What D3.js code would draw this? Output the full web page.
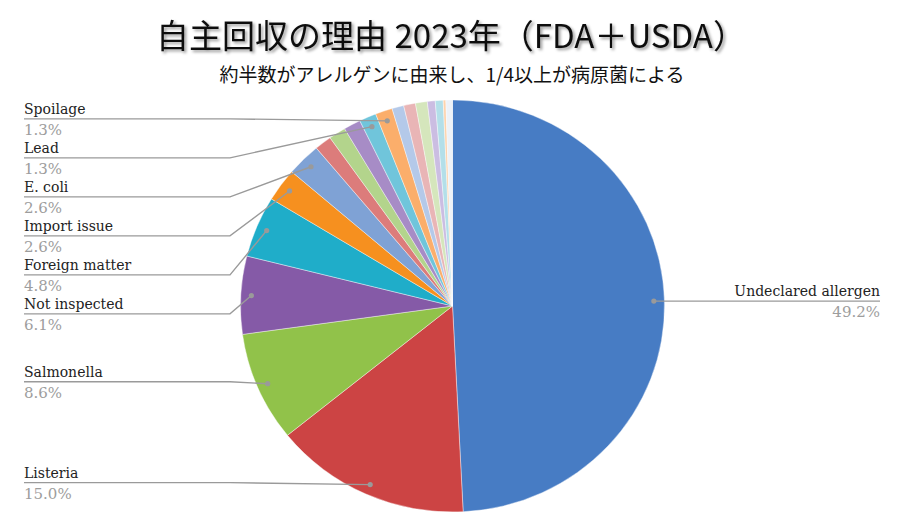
<!DOCTYPE html>
<html>
<head>
<meta charset="utf-8">
<script src="https://cdn.jsdelivr.net/npm/d3@7"></script>
<style>
  html, body { margin: 0; padding: 0; background: #fff; }
  svg { display: block; }
  .lab { font-family: "DejaVu Serif", "Liberation Serif", serif; }
  .ttl { font-family: "Noto Sans CJK JP", "Noto Sans", sans-serif; }
</style>
</head>
<body>
<svg id="chart" width="902" height="528"></svg>
<script>
// ---- data ----
const categories = [
  "Undeclared allergen", "Listeria", "Salmonella", "Not inspected", "Foreign matter",
  "Import issue", "E. coli", "Other 1", "Other 2", "Other 3", "Lead", "Spoilage",
  "Other 4", "Other 5", "Other 6", "Other 7", "Other 8", "Other 9", "Other 10"
];
const values = [49.2, 15.0, 8.6, 6.1, 4.8, 2.6, 2.6, 1.3, 1.3, 1.3, 1.3, 1.3, 0.9, 0.9, 0.9, 0.6, 0.6, 0.2, 0.5];
const colors = [
  "#477cc4", "#cc4444", "#91c24a", "#855aa7", "#1fadc9", "#f6901f", "#7fa2d5",
  "#dc7c7b", "#b3d48c", "#a78cc6", "#70c5db", "#fbae6b",
  "#b4c9e9", "#e9b5b6", "#d5e6bc", "#cbbde2", "#b3dfe9", "#fdd3ad", "#edf2f8"
];
const labeledLeft = ["Spoilage", "Lead", "E. coli", "Import issue", "Foreign matter", "Not inspected", "Salmonella", "Listeria"];
const labeledRight = ["Undeclared allergen"];
const titleText = "自主回収の理由 2023年（FDA＋USDA）";
const subtitleText = "約半数がアレルゲンに由来し、1/4以上が病原菌による";

// ---- layout ----
const W = 902, H = 528;
const cx = 452.5, cy = 306, R = 206, sx = 212 / 206;
const svg = d3.select("#chart");

const defs = svg.append("defs");
const f = defs.append("filter").attr("id", "shadow").attr("x", "-10%").attr("y", "-30%").attr("width", "120%").attr("height", "160%");
f.append("feDropShadow").attr("dx", 2).attr("dy", 2).attr("stdDeviation", 1.6).attr("flood-color", "#000").attr("flood-opacity", 0.4);

svg.append("text").attr("class", "ttl")
  .attr("x", W / 2).attr("y", 48)
  .attr("text-anchor", "middle")
  .attr("font-size", 33).attr("font-weight", 400)
  .attr("fill", "#111")
  .attr("filter", "url(#shadow)")
  .text(titleText);

svg.append("text").attr("class", "ttl")
  .attr("x", 452).attr("y", 82)
  .attr("text-anchor", "middle")
  .attr("font-size", 19)
  .attr("fill", "#111")
  .text(subtitleText);

const data = categories.map((c, i) => ({ name: c, value: values[i], color: colors[i] }));
const pie = d3.pie().value(d => d.value).sort(null).startAngle(0).endAngle(2 * Math.PI);
const arcs = pie(data);
const arc = d3.arc().innerRadius(0).outerRadius(R);
const dotArc = d3.arc().innerRadius(R * 0.95).outerRadius(R * 0.95);

const g = svg.append("g").attr("transform", `translate(${cx},${cy}) scale(${sx},1)`);
g.selectAll("path").data(arcs).enter().append("path")
  .attr("d", arc)
  .attr("fill", d => d.data.color)
  .attr("stroke", "#fff").attr("stroke-width", 0.4);

const fmt = d3.format(".1f");
const lineColor = "#9a9a9a";
const labG = svg.append("g");
const dotPos = a => { const c = dotArc.centroid(a); return [c[0] * sx + cx, c[1] + cy]; };

// left labels: stacked top-down
const left = arcs.filter(a => labeledLeft.includes(a.data.name))
  .map(a => { const c = dotPos(a); return { a, dx: c[0], dy: c[1] }; })
  .sort((p, q) => p.dy - q.dy);
let prevY = -Infinity;
left.forEach(p => {
  p.ly = Math.max(p.dy - 2, prevY + 39);
  prevY = p.ly;
});
const leftX = 24, kinkL = 230;
left.forEach(p => {
  labG.append("polyline")
    .attr("points", `${leftX},${p.ly} ${kinkL},${p.ly} ${p.dx},${p.dy}`)
    .attr("fill", "none").attr("stroke", lineColor).attr("stroke-width", 1.4);
  labG.append("circle").attr("cx", p.dx).attr("cy", p.dy).attr("r", 2.6).attr("fill", lineColor);
  labG.append("text").attr("class", "lab").attr("x", leftX).attr("y", p.ly - 5)
    .attr("font-size", 14)
    .attr("fill", "#222").text(p.a.data.name);
  labG.append("text").attr("class", "lab").attr("x", leftX).attr("y", p.ly + 16)
    .attr("font-size", 15)
    .attr("fill", "#9d9d9d").text(fmt(p.a.data.value) + "%");
});

// right labels
const rightX = 880;
arcs.filter(a => labeledRight.includes(a.data.name)).forEach(a => {
  const [dx, dy] = dotPos(a);
  const ly = dy;
  labG.append("polyline")
    .attr("points", `${dx},${dy} ${rightX},${ly}`)
    .attr("fill", "none").attr("stroke", lineColor).attr("stroke-width", 1.4);
  labG.append("circle").attr("cx", dx).attr("cy", dy).attr("r", 2.6).attr("fill", lineColor);
  labG.append("text").attr("class", "lab").attr("x", rightX).attr("y", ly - 5).attr("text-anchor", "end")
    .attr("font-size", 14)
    .attr("fill", "#222").text(a.data.name);
  labG.append("text").attr("class", "lab").attr("x", rightX).attr("y", ly + 16).attr("text-anchor", "end")
    .attr("font-size", 15)
    .attr("fill", "#9d9d9d").text(fmt(a.data.value) + "%");
});
</script>
</body>
</html>
